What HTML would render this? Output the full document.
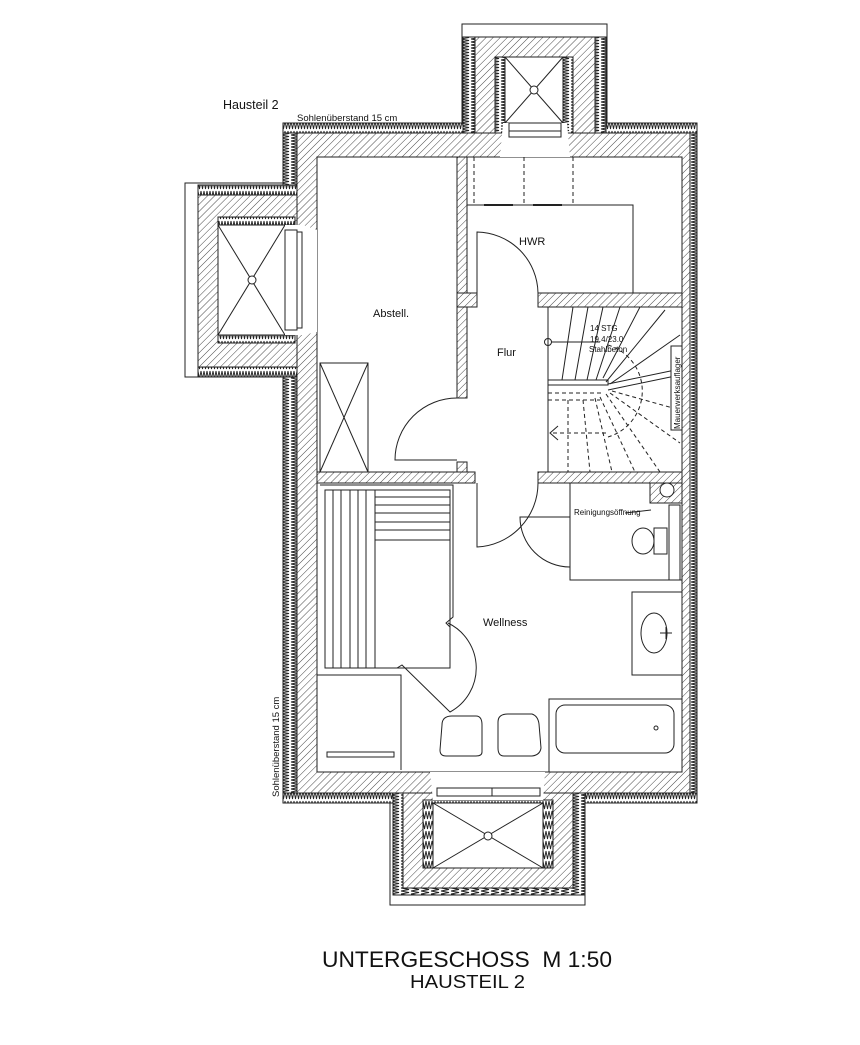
<!DOCTYPE html>
<html><head><meta charset="utf-8"><style>
html,body{margin:0;padding:0;background:#fff;width:860px;height:1045px;overflow:hidden}
svg{display:block}
text{font-family:"Liberation Sans",Arial,sans-serif;fill:#111}
</style></head><body>
<svg width="860" height="1045" viewBox="0 0 860 1045" xmlns="http://www.w3.org/2000/svg">
<defs>
<pattern id="h" width="5" height="5" patternUnits="userSpaceOnUse" patternTransform="rotate(45)">
<rect width="5" height="5" fill="#fff"/><line x1="0" y1="0" x2="0" y2="5" stroke="#333" stroke-width="0.9"/></pattern>
<pattern id="zh" width="3" height="10" patternUnits="userSpaceOnUse">
<rect width="3" height="10" fill="#fff"/><path d="M0,1 L1.5,9 L3,1" fill="none" stroke="#222" stroke-width="0.9"/></pattern>
<pattern id="zv" width="10" height="3" patternUnits="userSpaceOnUse">
<rect width="10" height="3" fill="#fff"/><path d="M1,0 L9,1.5 L1,3" fill="none" stroke="#222" stroke-width="0.9"/></pattern>
</defs>
<g stroke="#222" stroke-width="1">
<rect x="283" y="123" width="414" height="680" fill="url(#zh)"/>
<rect x="283" y="133" width="14" height="660" fill="url(#zv)"/>
<rect x="690" y="133" width="7" height="660" fill="url(#zv)"/>
<rect x="463" y="37" width="143" height="96" fill="url(#zv)"/>
<rect x="198" y="185" width="99" height="192" fill="url(#zh)"/>
<rect x="393" y="793" width="192" height="102" fill="url(#zv)"/>
<rect x="297" y="133" width="393" height="660" fill="url(#h)"/>
<rect x="475" y="37" width="120" height="96" fill="url(#h)"/>
<rect x="198" y="195" width="99" height="172" fill="url(#h)"/>
<rect x="403" y="793" width="170" height="95" fill="url(#h)"/>
<rect x="317" y="157" width="365" height="615" fill="#fff"/>
<rect x="495" y="57" width="78" height="76" fill="url(#zv)"/>
<rect x="505" y="57" width="58" height="66" fill="#fff"/>
<line x1="505" y1="57" x2="563" y2="123"/><line x1="563" y1="57" x2="505" y2="123"/>
<circle cx="534" cy="90" r="4" fill="#fff"/>
<polygon points="503,123 567,123 570,157 500,157" fill="#fff" stroke="none"/>
<rect x="509" y="123" width="52" height="8" fill="#fff"/><rect x="509" y="131" width="52" height="6" fill="#fff"/>
<rect x="218" y="217" width="77" height="126" fill="url(#zh)"/>
<rect x="218" y="225" width="77" height="110" fill="#fff"/>
<line x1="218" y1="225" x2="285" y2="335"/><line x1="285" y1="225" x2="218" y2="335"/>
<circle cx="252" cy="280" r="4" fill="#fff"/>
<polygon points="285,225 303,225 317,230 317,332 303,335 285,335" fill="#fff" stroke="none"/>
<rect x="285" y="230" width="12" height="100" fill="#fff"/><rect x="297" y="232" width="5" height="96" fill="#fff"/>
<rect x="423" y="800" width="130" height="68" fill="url(#zh)"/>
<rect x="433" y="803" width="110" height="65" fill="#fff"/>
<line x1="433" y1="803" x2="543" y2="868"/><line x1="543" y1="803" x2="433" y2="868"/>
<circle cx="488" cy="836" r="4" fill="#fff"/>
<polygon points="430,772 545,772 543,800 433,800" fill="#fff" stroke="none"/>
<rect x="437" y="788" width="55" height="8" fill="#fff"/><rect x="492" y="788" width="48" height="8" fill="#fff"/>
</g>
<path d="M283,123 L283,183 L185,183 L185,377 L283,377 L283,803 L390,803 L390,905 L585,905 L585,803 L697,803 L697,123 L607,123 L607,24 L462,24 L462,123 Z" fill="none" stroke="#222" stroke-width="1"/>
<g stroke="#222" stroke-width="1" fill="url(#h)">
<rect x="457" y="157" width="10" height="241"/>
<rect x="457" y="293" width="20" height="14"/>
<rect x="538" y="293" width="144" height="14"/>
<rect x="457" y="462" width="10" height="10"/>
<rect x="317" y="472" width="158" height="11"/>
<rect x="538" y="472" width="144" height="11"/>
<polygon points="650,483 682,483 682,503 650,503"/>
</g>
<g fill="none" stroke="#222" stroke-width="1">
<circle cx="667" cy="490" r="7" fill="#fff"/>
<path d="M474,157 V205 M524,157 V205 M573,157 V205" stroke-dasharray="4,3"/>
<path d="M467,205 H633 V293"/>
<path d="M484,205 H513 M533,205 H562" stroke-width="2"/>
<path d="M477,293 V232 A62,62 0 0 1 538,293"/>
<path d="M457,398 A62,62 0 0 0 395,460 H457"/>
<path d="M477,483 V547 A64,64 0 0 0 538,483"/>
<path d="M570,567 A50,50 0 0 1 520,517 H570"/>
<rect x="320" y="363" width="48" height="109"/>
<line x1="320" y1="363" x2="368" y2="472"/><line x1="368" y1="363" x2="320" y2="472"/>
<path d="M570,483 V580 H682"/>
<rect x="669" y="505" width="11" height="75"/>
<ellipse cx="643" cy="541" rx="11" ry="13"/>
<rect x="654" y="528" width="13" height="26"/>
<path d="M625,513 L651,510"/>
<rect x="632" y="592" width="50" height="83"/>
<ellipse cx="654" cy="633" rx="13" ry="20"/>
<path d="M660,633 H672 M666,627 V639"/>
<rect x="549" y="699" width="133" height="73"/>
<rect x="556" y="705" width="118" height="48" rx="9"/>
<circle cx="656" cy="728" r="2"/>
<path d="M442,725 Q442,716 452,716 H476 Q482,716 482,725 V752 Q482,756 476,756 H446 Q440,756 440,750 Z"/>
<path d="M498,722 Q498,714 508,714 H532 Q538,716 539,724 L541,748 Q540,755 532,756 H504 Q498,756 498,748 Z"/>
<path d="M320,485 H453 V617 L446,623 L450,627"/>
<rect x="325" y="490" width="125" height="178"/>
<path d="M333,490 V668 M341,490 V668 M350,490 V668 M358,490 V668 M366,490 V668 M375,490 V668"/>
<path d="M375,497 H450 M375,505 H450 M375,513 H450 M375,522 H450 M375,530 H450 M375,540 H450"/>
<path d="M325,668 H397 L402,665 L450,712 A50,50 0 0 0 448,623"/>
<path d="M317,675 H401 V770"/>
<rect x="327" y="752" width="67" height="5"/>
<line x1="548" y1="307" x2="548" y2="472"/>
<rect x="548" y="380" width="60" height="5" fill="#fff"/>
<path d="M608,384 L680,369 M608,390 L680,375"/>
<path d="M573,307 L562,380 M588,307 L575,380 M603,307 L587,380 M620,307 L596,380 M640,307 L603,378 M665,310 L606,382 M680,335 L610,384"/>
<circle cx="548" cy="342" r="3.5"/><line x1="551" y1="342" x2="600" y2="342"/>
<path d="M608,345 A48,48 0 0 1 608,437" stroke-dasharray="4,3"/>
<g stroke-dasharray="4,3">
<path d="M548,393 H603 M548,400 H600"/>
<path d="M568,400 V472 M583,400 L590,472 M595,398 L612,472 M600,397 L635,472 M606,394 L660,472 M610,393 L680,443 M612,391 L680,410"/>
<path d="M553,433 H608"/>
</g>
<path d="M558,426 L550,433 L558,440"/>
<rect x="671" y="346" width="11" height="84" fill="#fff"/>
</g>
<text x="223" y="109" font-size="12.5">Hausteil 2</text>
<text x="297" y="121" font-size="9.5">Sohlenüberstand 15 cm</text>
<text x="279" y="797" font-size="9.5" transform="rotate(-90 279 797)">Sohlenüberstand 15 cm</text>
<text x="519" y="245" font-size="11">HWR</text>
<text x="373" y="317" font-size="11">Abstell.</text>
<text x="497" y="356" font-size="11">Flur</text>
<text x="483" y="626" font-size="11">Wellness</text>
<text x="574" y="515" font-size="8">Reinigungsöffnung</text>
<text x="590" y="331" font-size="8">14 STG</text>
<text x="590" y="342" font-size="8">19.4/23.0</text>
<text x="589" y="352" font-size="8">Stahlbeton</text>
<text x="680" y="429" font-size="8" transform="rotate(-90 680 429)">Mauerwerksauflager</text>
<text x="322" y="967" font-size="22.5" textLength="290" lengthAdjust="spacingAndGlyphs" xml:space="preserve">UNTERGESCHOSS  M 1:50</text>
<text x="410" y="988" font-size="18" textLength="115" lengthAdjust="spacingAndGlyphs">HAUSTEIL 2</text>
</svg>
</body></html>
